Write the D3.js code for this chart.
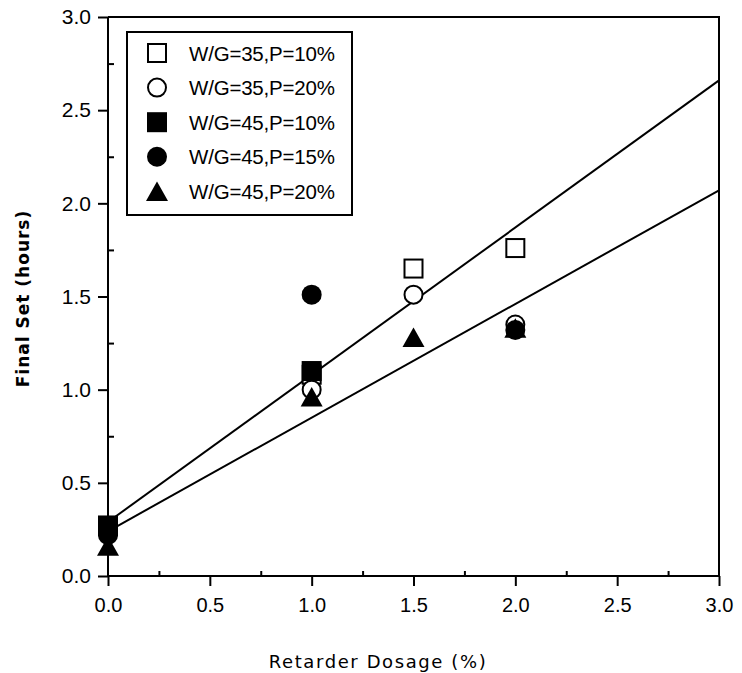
<!DOCTYPE html>
<html><head><meta charset="utf-8">
<script src="https://cdn.jsdelivr.net/npm/d3@7"></script>
<style>body{margin:0;background:#fff}svg{display:block}</style>
</head><body>
<svg id="chart" width="742" height="673"></svg>
<script>
// ---- data ----
const seriesNames = ["W/G=35,P=10%", "W/G=35,P=20%", "W/G=45,P=10%", "W/G=45,P=15%", "W/G=45,P=20%"];
const seriesShapes = ["squareOpen", "circleOpen", "squareFilled", "circleFilled", "triangleFilled"];
const wg35p10X = [0, 1, 1.5, 2];
const wg35p10Y = [0.27, 1.08, 1.65, 1.76];
const wg35p20X = [0, 1, 1.5, 2];
const wg35p20Y = [0.23, 1.00, 1.51, 1.35];
const wg45p10X = [0, 1];
const wg45p10Y = [0.27, 1.10];
const wg45p15X = [0, 1, 2];
const wg45p15Y = [0.22, 1.51, 1.32];
const wg45p20X = [0, 1, 1.5, 2];
const wg45p20Y = [0.16, 0.96, 1.28, 1.33];
const upperLineX = [0, 3];
const upperLineY = [0.29, 2.66];
const lowerLineX = [0, 3];
const lowerLineY = [0.24, 2.07];
const xTickValues = [0, 0.5, 1, 1.5, 2, 2.5, 3];
const xTickLabels = ["0.0", "0.5", "1.0", "1.5", "2.0", "2.5", "3.0"];
const xMinorTicks = [0.25, 0.75, 1.25, 1.75, 2.25, 2.75];
const yTickValues = [0, 0.5, 1, 1.5, 2, 2.5, 3];
const yTickLabels = ["0.0", "0.5", "1.0", "1.5", "2.0", "2.5", "3.0"];
const yMinorTicks = [0.25, 0.75, 1.25, 1.75, 2.25, 2.75];
const xTitle = "Retarder Dosage (%)";
const yTitle = "Final Set (hours)";

const seriesX = [wg35p10X, wg35p20X, wg45p10X, wg45p15X, wg45p20X];
const seriesY = [wg35p10Y, wg35p20Y, wg45p10Y, wg45p15Y, wg45p20Y];

// ---- layout ----
const L = 108, R = 719, T = 17, B = 576;
const svg = d3.select("#chart");
svg.append("rect").attr("width", 742).attr("height", 673).attr("fill", "#fff");
const x = d3.scaleLinear().domain([0, 3]).range([L, R]);
const y = d3.scaleLinear().domain([0, 3]).range([B, T]);
const tickFont = "'Liberation Sans', Arial, sans-serif";

// frame (top and right borders)
svg.append("path")
  .attr("d", `M${x(0)},${y(3)}H${x(3)}V${y(0)}`)
  .attr("fill", "none").attr("stroke", "#000").attr("stroke-width", 2);

// y axis
const yAxis = svg.append("g").attr("transform", `translate(${L},0)`)
  .call(d3.axisLeft(y).tickValues(yTickValues).tickSize(10).tickPadding(7)
    .tickFormat((d, i) => yTickLabels[i]));
yAxis.select(".domain").attr("stroke-width", 2).attr("d", `M0,${y(0)}V${y(3)}`);
yAxis.selectAll(".tick line").attr("stroke-width", 2);
yAxis.selectAll(".tick text").attr("font-family", tickFont).attr("font-size", 21).attr("fill", "#000");
svg.append("g").attr("transform", `translate(${L},0)`)
  .call(d3.axisLeft(y).tickValues(yMinorTicks).tickSize(-6).tickFormat(""))
  .call(g => g.select(".domain").remove())
  .selectAll(".tick line").attr("stroke-width", 2);

// x axis
const xAxis = svg.append("g").attr("transform", `translate(0,${B})`)
  .call(d3.axisBottom(x).tickValues(xTickValues).tickSize(10).tickPadding(12)
    .tickFormat((d, i) => xTickLabels[i]));
xAxis.select(".domain").attr("stroke-width", 2).attr("d", `M${x(0)},0H${x(3)}`);
xAxis.selectAll(".tick line").attr("stroke-width", 2);
xAxis.selectAll(".tick text").attr("font-family", tickFont).attr("font-size", 20).attr("fill", "#000");
svg.append("g").attr("transform", `translate(0,${B})`)
  .call(d3.axisBottom(x).tickValues(xMinorTicks).tickSize(-5).tickFormat(""))
  .call(g => g.select(".domain").remove())
  .selectAll(".tick line").attr("stroke-width", 2);

// axis titles
svg.append("text").attr("x", 378).attr("y", 668)
  .attr("text-anchor", "middle").attr("font-family", "'DejaVu Sans', sans-serif")
  .attr("font-size", 18).attr("letter-spacing", 1.6).attr("fill", "#000").text(xTitle);
svg.append("text").attr("transform", `translate(29,${(T + B) / 2 + 2}) rotate(-90)`)
  .attr("text-anchor", "middle").attr("font-family", "'DejaVu Sans', sans-serif")
  .attr("font-weight", "bold").attr("font-size", 17).attr("letter-spacing", 1)
  .attr("fill", "#000").text(yTitle);

// fit lines
const line = d3.line().x(d => x(d[0])).y(d => y(d[1]));
[[upperLineX, upperLineY], [lowerLineX, lowerLineY]].forEach(([xs, ys]) => {
  svg.append("path").attr("d", line(xs.map((v, i) => [v, ys[i]])))
    .attr("fill", "none").attr("stroke", "#000").attr("stroke-width", 2);
});

// markers
function marker(g, shape, cx, cy) {
  const sw = 2;
  if (shape === "squareOpen") {
    g.append("rect").attr("x", cx - 9).attr("y", cy - 9).attr("width", 18).attr("height", 18)
      .attr("fill", "#fff").attr("stroke", "#000").attr("stroke-width", sw);
  } else if (shape === "squareFilled") {
    g.append("rect").attr("x", cx - 10).attr("y", cy - 10).attr("width", 20).attr("height", 20)
      .attr("fill", "#000");
  } else if (shape === "circleOpen") {
    g.append("circle").attr("cx", cx).attr("cy", cy).attr("r", 9)
      .attr("fill", "#fff").attr("stroke", "#000").attr("stroke-width", sw);
  } else if (shape === "circleFilled") {
    g.append("circle").attr("cx", cx).attr("cy", cy).attr("r", 10).attr("fill", "#000");
  } else if (shape === "triangleFilled") {
    g.append("path").attr("d", `M${cx},${cy - 10}L${cx + 11},${cy + 9.5}L${cx - 11},${cy + 9.5}Z`)
      .attr("fill", "#000");
  }
}
const pts = svg.append("g");
seriesShapes.forEach((shape, s) => {
  seriesX[s].forEach((xv, i) => marker(pts, shape, x(xv), y(seriesY[s][i])));
});

// legend
const lg = svg.append("g");
lg.append("rect").attr("x", 127).attr("y", 32).attr("width", 225).attr("height", 183)
  .attr("fill", "#fff").attr("stroke", "#000").attr("stroke-width", 2);
seriesNames.forEach((name, i) => {
  const cy = 53 + i * 34.6;
  marker(lg, seriesShapes[i], 157, cy);
  lg.append("text").attr("x", 189).attr("y", cy + 7.5)
    .attr("font-family", tickFont).attr("font-size", 20.5).attr("letter-spacing", -0.2)
    .attr("fill", "#000").text(name);
});
</script>
</body></html>
